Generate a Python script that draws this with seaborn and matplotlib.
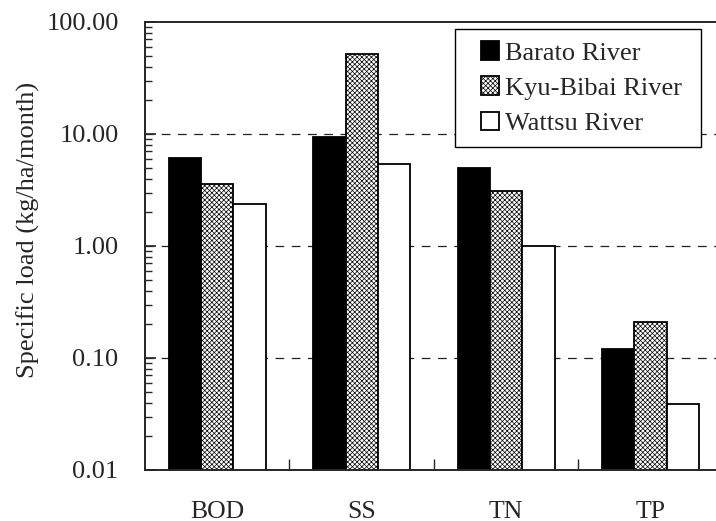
import numpy as np
import pandas as pd
import seaborn as sns
import matplotlib.pyplot as plt
from matplotlib.patches import Rectangle
from matplotlib.ticker import FixedLocator, LogLocator, NullFormatter

# values (kg/ha/month)
params = ['BOD', 'SS', 'TN', 'TP']
rivers = ['Barato River', 'Kyu-Bibai River', 'Wattsu River']
barato = [6.07, 9.34, 4.94, 0.120]
kyu_bibai = [3.58, 52.1, 3.10, 0.21]
wattsu = [2.36, 5.43, 0.99, 0.039]

data = pd.DataFrame({
    'param': params * 3,
    'river': [rivers[0]] * 4 + [rivers[1]] * 4 + [rivers[2]] * 4,
    'load': barato + kyu_bibai + wattsu,
})

sns.set_style('ticks')
plt.rcParams['font.family'] = ['Liberation Serif', 'DejaVu Serif']
plt.rcParams['hatch.linewidth'] = 0.5

fig = plt.figure(figsize=(7.16, 5.21), dpi=100)
ax = fig.add_axes([0.2025, 0.0979, 0.807, 0.8599])
ax.set_yscale('log')

sns.barplot(data=data, x='param', y='load', hue='river', order=params,
            hue_order=rivers, palette=['black', 'white', 'white'],
            width=0.67, edgecolor='black', linewidth=1.3, saturation=1,
            legend=False, ax=ax)

for bar in ax.containers[1]:
    bar.set_hatch('xxxxxxx')

ax.set_ylim(0.01, 100)
ax.set_xlim(-0.5, 3.5)
ax.set_yticks([0.01, 0.1, 1, 10, 100])
ax.set_yticklabels(['0.01', '0.10', '1.00', '10.00', '100.00'])
ax.yaxis.set_minor_locator(LogLocator(base=10, subs=np.arange(2, 10)))
ax.yaxis.set_minor_formatter(NullFormatter())
ax.tick_params(axis='y', which='major', direction='in', length=8, width=1.2,
               labelsize=19, pad=19)
ax.tick_params(axis='y', which='minor', direction='in', length=5, width=1.0)

ax.xaxis.set_minor_locator(FixedLocator([0.5, 1.5, 2.5]))
ax.tick_params(axis='x', which='major', length=0, labelsize=18.5, pad=22)
ax.tick_params(axis='x', which='minor', direction='in', length=8, width=1.0)

for y in [0.1, 1, 10]:
    ax.axhline(y, color='#222222', linestyle=(0, (7, 6)), linewidth=0.9, zorder=0)

for s in ['left', 'bottom', 'top']:
    ax.spines[s].set_linewidth(1.4)
ax.spines['right'].set_visible(False)

ax.set_xlabel('')
ax.set_ylabel('Specific load (kg/ha/month)', fontsize=19)
ax.yaxis.set_label_coords(-0.181, 0.535)

leg = ax.legend(ax.containers, rivers, loc='upper left',
                bbox_to_anchor=(0.5606, 0.984), borderaxespad=0,
                fontsize=19, handlelength=0.7, handleheight=0.7,
                handletextpad=0.2, labelspacing=0.45, fancybox=False,
                frameon=False, borderpad=0.45)
leg.set_zorder(6)

# frame drawn separately so it can be wider than the legend box
fig.canvas.draw()
bb = leg.get_window_extent().transformed(ax.transAxes.inverted())
px = 1.0 / (ax.bbox.width)
ax.add_patch(Rectangle((bb.x0 - 14 * px, bb.y0), bb.width + 22 * px, bb.height,
                       transform=ax.transAxes, facecolor='white',
                       edgecolor='black', linewidth=1.0, zorder=5,
                       clip_on=False))

fig.savefig('out.png', dpi=100)
